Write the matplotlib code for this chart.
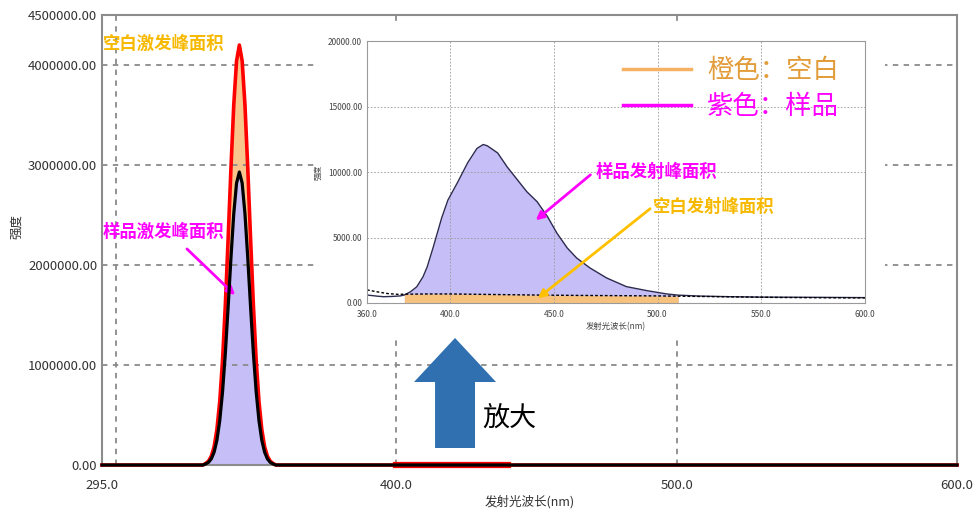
import matplotlib.pyplot as plt
import matplotlib.patches as patches
from matplotlib.lines import Line2D
import numpy as np

plt.rcParams['font.family'] = ['Noto Sans CJK SC', 'DejaVu Sans']

# 激发散射峰（主图）
exc_x = [295, 331, 332, 333, 334, 335, 336, 337, 338, 339, 340, 341, 342, 343, 344,
         345, 346, 347, 348, 349, 350, 351, 352, 353, 354, 355, 356, 357, 600]
blank_exc = [0, 0, 16000, 39000, 89000, 184000, 356000, 635000, 1047000, 1601000,
             2266000, 2968000, 3600000, 4041000, 4200000, 4041000, 3600000, 2968000,
             2266000, 1601000, 1047000, 635000, 356000, 184000, 89000, 39000, 16000, 0, 0]
sample_exc = [0, 0, 11000, 27000, 62000, 129000, 248000, 443000, 731000, 1117000,
              1581000, 2071000, 2512000, 2819000, 2930000, 2819000, 2512000, 2071000,
              1581000, 1117000, 731000, 443000, 248000, 129000, 62000, 27000, 11000, 0, 0]
# 发射峰在主图尺度下几乎为0
blank_em_main_x = [400, 440]
blank_em_main_y = [0, 0]

main_xticks = [295, 400, 500, 600]
main_xgrid = [300, 400, 500]
main_yticks = [0, 1000000, 2000000, 3000000, 4000000, 4500000]
main_ygrid = [1000000, 2000000, 3000000, 4000000]

# 发射峰（放大图）
em_x = [360, 365, 368, 372, 376, 378, 381, 384, 387, 389, 392, 396, 399, 403.5, 408.5,
        413, 416, 418, 423, 427.5, 432.5, 437, 442, 447, 451.5, 456.5, 461, 467.5, 475.5,
        485, 495, 504.5, 510, 520, 535, 550, 565, 580, 600]
sample_em = [610, 520, 480, 500, 540, 610, 860, 1240, 2000, 2750, 4300, 6500, 7860, 9160,
             10700, 11800, 12100, 12000, 11450, 10400, 9400, 8500, 7730, 6590, 5340, 4200,
             3440, 2670, 1910, 1250, 940, 690, 600, 530, 480, 450, 440, 430, 410]
blank_em_x = [360, 365, 370, 375, 378, 390, 400, 420, 440, 460, 480, 500, 510, 520, 540,
              560, 580, 600]
blank_em = [1000, 850, 720, 660, 670, 690, 690, 650, 610, 580, 560, 540, 520, 500, 460,
            420, 400, 390]
area_lo, area_hi = 378, 510

inset_xticks = [360, 400, 450, 500, 550, 600]
inset_yticks = [0, 5000, 10000, 15000, 20000]

ORANGE_FILL = '#F8C58C'
LAVENDER = '#C6BEF7'
MAGENTA = '#FF00FF'
GOLD = '#F7B900'

fig = plt.figure(figsize=(9.75, 5.16), dpi=100)

# ---- 主图 ----
ax = fig.add_axes([0.1046, 0.0988, 0.877, 0.8721])
ax.set_zorder(0)
ax.set_xlim(295, 600)
ax.set_ylim(0, 4500000)

ax.fill_between(exc_x, blank_exc, color=ORANGE_FILL, lw=0)
ax.fill_between(exc_x, sample_exc, color=LAVENDER, lw=0)
ax.plot(exc_x, blank_exc, color='#FF0000', lw=2.6, clip_on=False, zorder=3)
ax.plot(blank_em_main_x, blank_em_main_y, color='#FF0000', lw=4.5, clip_on=False, zorder=3)
ax.plot(exc_x, sample_exc, color='black', lw=2.3, clip_on=False, zorder=4)

ax.set_xticks(main_xticks)
ax.set_xticklabels([f'{v:.1f}' for v in main_xticks])
ax.set_yticks(main_yticks)
ax.set_yticklabels([f'{v:.2f}' for v in main_yticks])
# 网格线位置与刻度标签不同，用次刻度画网格
ax.xaxis.remove_overlapping_locs = False
ax.yaxis.remove_overlapping_locs = False
ax.set_xticks(main_xgrid, minor=True)
ax.set_yticks(main_ygrid, minor=True)
ax.tick_params(which='both', length=0, labelsize=9.5, labelcolor='#333333')
ax.tick_params(axis='x', pad=10)
ax.grid(False)
ax.grid(which='minor', color='#8a8a8a', linestyle=(0, (3, 3)), lw=1.3)
for s in ax.spines.values():
    s.set_color('#8c8c8c')
    s.set_linewidth(1.5)
ax.set_ylabel('强度', fontsize=9, color='#333333')
ax.yaxis.set_label_coords(-0.092, 0.53)
ax.set_xlabel('发射光波长(nm)', fontsize=9, color='#333333', labelpad=2)

ax.text(295.4, 4210000, '空白激发峰面积', color=GOLD, fontsize=12.5,
        fontweight='bold', ha='left', va='center')
ax.text(295.4, 2330000, '样品激发峰面积', color=MAGENTA, fontsize=12.5,
        fontweight='bold', ha='left', va='center')
ax.annotate('', xy=(343.2, 1680000), xytext=(324.6, 2180000),
            arrowprops=dict(arrowstyle='-|>', color=MAGENTA, lw=2, mutation_scale=12))

# 白底遮住主图网格
fig.add_artist(patches.Rectangle((0.323, 0.351), 0.585, 0.607, transform=fig.transFigure,
                                 facecolor='white', edgecolor='none', zorder=1))

# ---- 放大图 ----
ax2 = fig.add_axes([0.3764, 0.4128, 0.5108, 0.5077])
ax2.set_zorder(2)
ax2.set_xlim(360, 600)
ax2.set_ylim(0, 20000)

em_x_arr = np.array(em_x)
blank_x_arr = np.array(blank_em_x)
ax2.fill_between(em_x, sample_em, where=(em_x_arr >= area_lo) & (em_x_arr <= area_hi),
                 color=LAVENDER, lw=0)
ax2.fill_between(blank_em_x, blank_em,
                 where=(blank_x_arr >= area_lo) & (blank_x_arr <= area_hi),
                 color='#F7C27E', lw=0)
ax2.plot(em_x, sample_em, color='#2B2B4F', lw=1.0)
ax2.plot(blank_em_x, blank_em, color='black', lw=1.0, ls=(0, (2, 1.5)))

ax2.set_xticks(inset_xticks)
ax2.set_xticklabels([f'{v:.1f}' for v in inset_xticks])
ax2.set_yticks(inset_yticks)
ax2.set_yticklabels([f'{v:.2f}' for v in inset_yticks])
ax2.tick_params(length=0, labelsize=6, labelcolor='#444444')
ax2.tick_params(axis='x', pad=5)
ax2.grid(color='#999999', linestyle=(0, (2, 2)), lw=0.6)
for s in ax2.spines.values():
    s.set_color('#9a9a9a')
    s.set_linewidth(0.8)
ax2.set_ylabel('强度', fontsize=5.5, color='#444444')
ax2.set_xlabel('发射光波长(nm)', fontsize=6, color='#444444', labelpad=2)

ax2.text(470.1, 10000, '样品发射峰面积', color=MAGENTA, fontsize=12.5,
         fontweight='bold', ha='left', va='center')
ax2.annotate('', xy=(440.3, 6180), xytext=(468.7, 9920),
             arrowprops=dict(arrowstyle='-|>', color=MAGENTA, lw=2, mutation_scale=12))
ax2.text(498, 7330, '空白发射峰面积', color=GOLD, fontsize=12.5,
         fontweight='bold', ha='left', va='center')
ax2.annotate('', xy=(441.3, 230), xytext=(497.5, 7330),
             arrowprops=dict(arrowstyle='-|>', color='#FFC000', lw=2, mutation_scale=12))

handles = [Line2D([], [], color='#F5B264', lw=2.5), Line2D([], [], color=MAGENTA, lw=2.5)]
ax2.legend(handles, ['橙色：空白', '紫色：样品'], labelcolor=['#E29C3A', MAGENTA],
           fontsize=19, frameon=False, handlelength=2.6, handletextpad=0.6,
           labelspacing=0.35, loc='upper left', bbox_to_anchor=(0.466, 1.03))

# ---- 放大箭头 ----
fig.add_artist(patches.FancyArrow(0.4667, 0.1318, 0, 0.2132, width=0.041,
                                  head_width=0.0841, head_length=0.0853,
                                  length_includes_head=True, transform=fig.transFigure,
                                  facecolor='#3170B0', edgecolor='none', zorder=3))
fig.text(0.495, 0.19, '放大', fontsize=19.5, color='black', ha='left', va='center')

fig.savefig('out.png', dpi=100)
